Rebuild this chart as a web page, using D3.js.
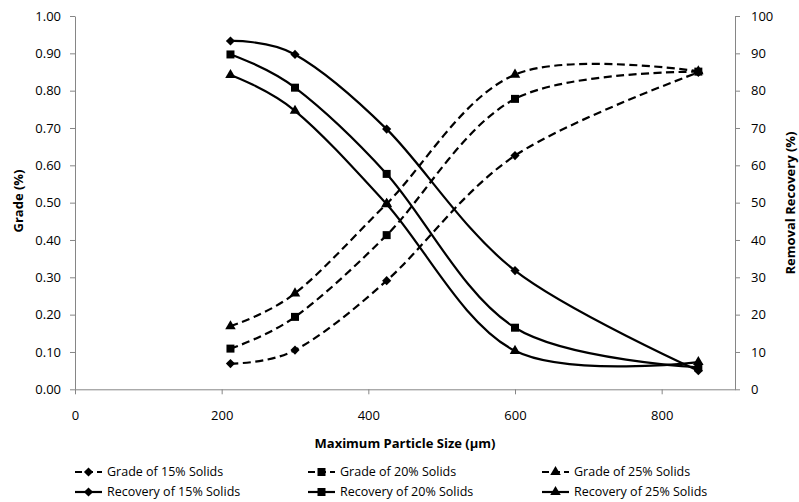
<!DOCTYPE html>
<html>
<head>
<meta charset="utf-8">
<script src="https://cdn.jsdelivr.net/npm/d3@7"></script>
<style>
  body { margin: 0; background: #fff; }
  text { font-family: "Open Sans", "Noto Sans", sans-serif; fill: #000; }
</style>
</head>
<body>
<svg id="chart" width="799" height="502"></svg>
<script>
// particle sizes (µm)
const sizes = [212, 300, 425, 600, 850];

// grade (left axis, fraction)
const grade15 = [0.069, 0.105, 0.291, 0.626, 0.849];
const grade20 = [0.109, 0.194, 0.413, 0.778, 0.851];
const grade25 = [0.169, 0.257, 0.497, 0.843, 0.852];

// removal recovery (right axis, %)
const recovery15 = [93.3, 89.7, 69.7, 31.8, 5.0];
const recovery20 = [89.7, 80.8, 57.7, 16.5, 5.9];
const recovery25 = [84.2, 74.6, 49.6, 10.3, 7.3];

const leftTicks = [0, 0.1, 0.2, 0.3, 0.4, 0.5, 0.6, 0.7, 0.8, 0.9, 1.0];
const rightTicks = [0, 10, 20, 30, 40, 50, 60, 70, 80, 90, 100];
const xTicks = [0, 200, 400, 600, 800];

const series = [
    { name: "Grade of 15% Solids", values: grade15, axis: "left", dashed: true, marker: "diamond" },
    { name: "Grade of 20% Solids", values: grade20, axis: "left", dashed: true, marker: "square" },
    { name: "Grade of 25% Solids", values: grade25, axis: "left", dashed: true, marker: "triangle" },
    { name: "Recovery of 15% Solids", values: recovery15, axis: "right", dashed: false, marker: "diamond" },
    { name: "Recovery of 20% Solids", values: recovery20, axis: "right", dashed: false, marker: "square" },
    { name: "Recovery of 25% Solids", values: recovery25, axis: "right", dashed: false, marker: "triangle" }
];

const svg = d3.select("#chart");
const plotLeft = 75, plotRight = 735, plotTop = 16, plotBottom = 389.3;
const axisColor = "#868686";

const x = d3.scaleLinear().domain([0, 900]).range([plotLeft, plotRight]);
const yL = d3.scaleLinear().domain([0, 1]).range([plotBottom, plotTop]);
const yR = d3.scaleLinear().domain([0, 100]).range([plotBottom, plotTop]);

function styleAxis(g) {
    g.select(".domain").attr("stroke", axisColor).attr("stroke-width", 1);
    g.selectAll(".tick line").attr("stroke", axisColor);
    g.selectAll(".tick text").attr("font-size", 13).attr("fill", "#222");
}

svg.append("g")
    .attr("transform", `translate(${plotLeft},0)`)
    .call(d3.axisLeft(yL).tickValues(leftTicks).tickFormat(d3.format(".2f")).tickSize(5).tickSizeOuter(0).tickPadding(9))
    .attr("font-family", null)
    .call(styleAxis);

svg.append("g")
    .attr("transform", `translate(${plotRight},0)`)
    .call(d3.axisRight(yR).tickValues(rightTicks).tickSize(5).tickSizeOuter(0).tickPadding(11))
    .attr("font-family", null)
    .call(styleAxis);

svg.append("g")
    .attr("transform", `translate(0,${plotBottom})`)
    .call(d3.axisBottom(x).tickValues(xTicks).tickSize(5).tickSizeOuter(0).tickPadding(16))
    .attr("font-family", null)
    .call(styleAxis);

// axis titles
svg.append("text")
    .attr("transform", `translate(23,201) rotate(-90)`)
    .attr("text-anchor", "middle")
    .attr("font-size", 13).attr("font-weight", "bold")
    .text("Grade (%)");

svg.append("text")
    .attr("transform", `translate(795,203) rotate(-90)`)
    .attr("text-anchor", "middle")
    .attr("font-size", 13).attr("font-weight", "bold")
    .text("Removal Recovery (%)");

svg.append("text")
    .attr("x", 405).attr("y", 448)
    .attr("text-anchor", "middle")
    .attr("font-size", 13).attr("font-weight", "bold")
    .text("Maximum Particle Size (µm)");

const symbols = {
    diamond: { path: d3.symbol().type(d3.symbolSquare).size(42)(), rot: 45 },
    square: { path: d3.symbol().type(d3.symbolSquare).size(64)(), rot: 0 },
    triangle: { path: d3.symbol().type(d3.symbolTriangle).size(48)(), rot: 0 }
};

const plot = svg.append("g");

series.forEach(s => {
    const y = s.axis === "left" ? yL : yR;
    const pts = sizes.map((d, i) => [x(d), y(s.values[i])]);
    const line = d3.line().curve(d3.curveCardinal.tension(0));

    plot.append("path")
        .attr("d", line(pts))
        .attr("fill", "none")
        .attr("stroke", "#000")
        .attr("stroke-width", 2.2)
        .attr("stroke-dasharray", s.dashed ? "8,4.5" : null);

    plot.selectAll(null)
        .data(pts)
        .enter()
        .append("path")
        .attr("d", symbols[s.marker].path)
        .attr("transform", d => `translate(${d[0]},${d[1]}) rotate(${symbols[s.marker].rot})`)
        .attr("fill", "#000");
});

// legend, 3 columns by 2 rows
const legendCols = [75, 308, 542];
const legendRows = [472, 492];

series.forEach((s, i) => {
    const lx = legendCols[i % 3];
    const ly = legendRows[Math.floor(i / 3)];
    const g = svg.append("g").attr("transform", `translate(${lx},${ly})`);
    g.append("line")
        .attr("x1", 0).attr("x2", 27)
        .attr("stroke", "#000").attr("stroke-width", 2.2)
        .attr("stroke-dasharray", s.dashed ? "7,4" : null);
    g.append("path")
        .attr("d", symbols[s.marker].path)
        .attr("transform", `translate(13.5,0) rotate(${symbols[s.marker].rot})`)
        .attr("fill", "#000");
    g.append("text")
        .attr("x", 32).attr("dy", "0.35em")
        .attr("font-size", 12.5)
        .attr("fill", "#222")
        .text(s.name);
});
</script>
</body>
</html>
